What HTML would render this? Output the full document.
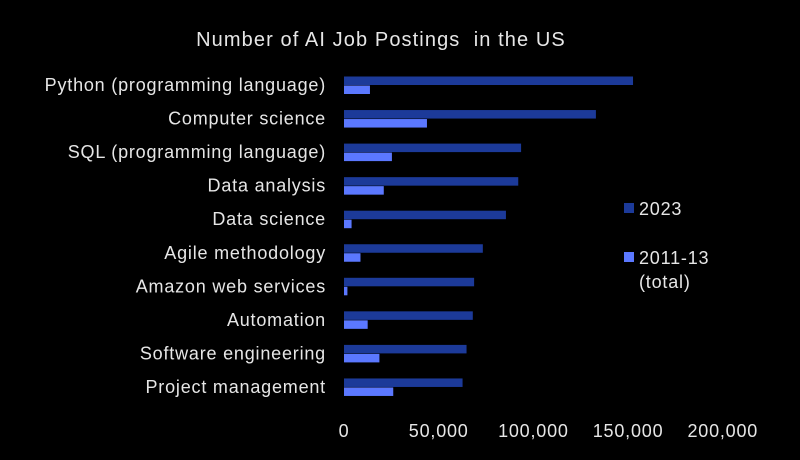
<!DOCTYPE html>
<html><head><meta charset="utf-8"><style>
html,body{margin:0;padding:0;background:#000;}
svg text{font-family:"Liberation Sans",sans-serif;fill:#e6e6e6;letter-spacing:0.8px;}
</style></head><body>
<svg id="chart" width="800" height="455" viewBox="0 0 800 455">
<rect width="800" height="455" fill="#000"/>
<text x="381" y="46" font-size="20" text-anchor="middle" style="letter-spacing:1.1px">Number of AI Job Postings &#160;in the US</text>
<g id="bars"></g><g id="labels"></g><g id="ticks"></g>
<g>
<rect x="624" y="203" width="10" height="10" fill="#1c3a99"/>
<text x="639" y="215" font-size="18">2023</text>
<rect x="624" y="252" width="10" height="10" fill="#5b78ff"/>
<text x="639" y="264" font-size="18">2011-13</text>
<text x="639" y="288" font-size="18">(total)</text>
</g>
</svg>
<script>
const categories=["Python (programming language)","Computer science","SQL (programming language)","Data analysis","Data science","Agile methodology","Amazon web services","Automation","Software engineering","Project management"];
const values2023=[152600,133000,93500,92000,85500,73300,68700,68000,64700,62600];
const values2011=[13700,43800,25300,21000,4000,8700,1800,12500,18700,26000];
const tickValues=[0,50000,100000,150000,200000];
const tickLabels=["0","50,000","100,000","150,000","200,000"];
const NS="http://www.w3.org/2000/svg";
const x0=344,pxPer=94.7/50000;
const xs=v=>x0+v*pxPer;
const bandStart=85,band=33.55,bh=8.5;
const yc=i=>bandStart+i*band;
const bars=document.getElementById('bars'),labels=document.getElementById('labels'),ticks=document.getElementById('ticks');
function mk(tag,attrs){const e=document.createElementNS(NS,tag);for(const k in attrs)e.setAttribute(k,attrs[k]);return e;}
categories.forEach((c,i)=>{
  const r1=mk('rect',{x:x0,y:yc(i)-bh,width:xs(values2023[i])-x0,height:bh,fill:'#1c3a99'});
  
  
  bars.appendChild(r1);
  const r2=mk('rect',{x:x0,y:yc(i)+0.5,width:xs(values2011[i])-x0,height:bh,fill:'#5b78ff'});
  
  
  bars.appendChild(r2);
  const t=mk('text',{x:326,y:yc(i)+6,'font-size':18,'text-anchor':'end'});
  t.textContent=c;
  
  
  labels.appendChild(t);
});
tickValues.forEach((v,i)=>{
  const t=mk('text',{x:xs(v),y:437,'font-size':18,'text-anchor':'middle'});
  t.textContent=tickLabels[i];
  
  
  ticks.appendChild(t);
});
</script>
</body></html>
